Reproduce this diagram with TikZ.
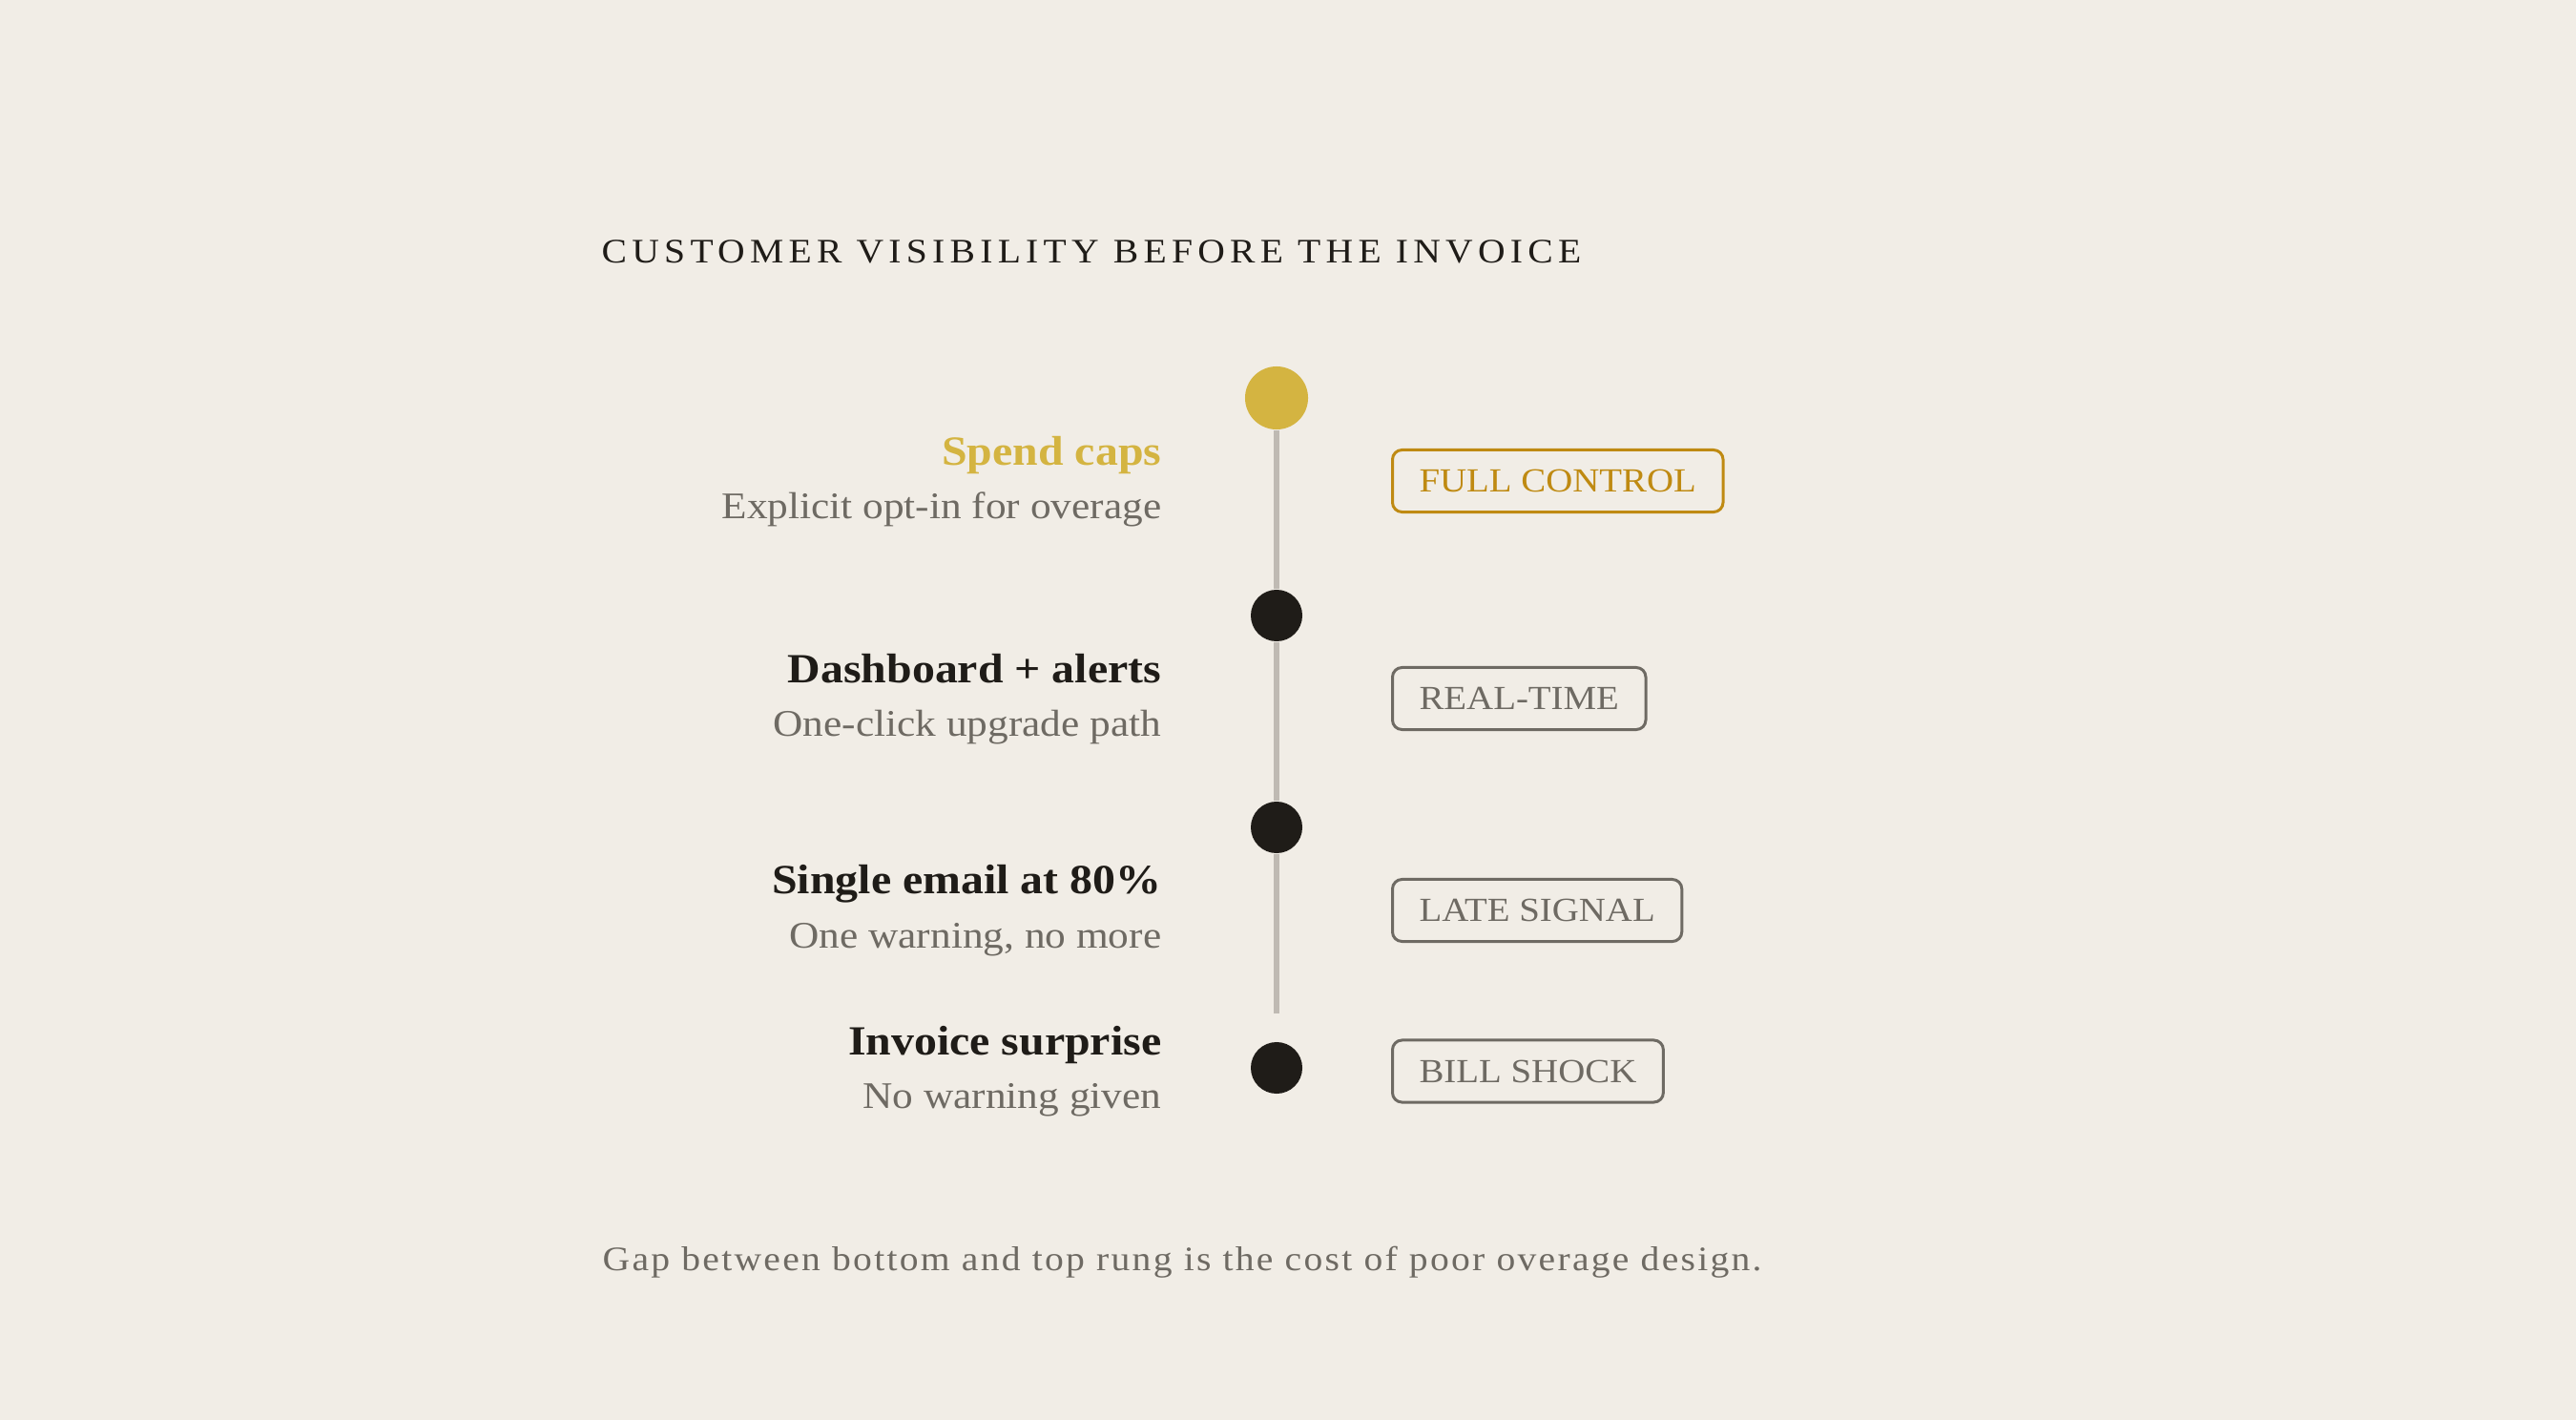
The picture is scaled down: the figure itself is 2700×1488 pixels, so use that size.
\documentclass[tikz,border=0pt]{standalone}
\usepackage{fontspec}
\setmainfont{Liberation Serif}[FakeStretch=1.1]
\definecolor{bg}{HTML}{F1EDE6}
\definecolor{gold}{HTML}{D4B441}
\definecolor{golddark}{HTML}{BF8A12}
\definecolor{ink}{HTML}{1F1C18}
\definecolor{muted}{HTML}{6E6A63}
\definecolor{rail}{HTML}{BFBAB3}
\tikzset{
  dot/.style={circle, fill=ink, minimum size=0.54cm, inner sep=0pt},
  golddot/.style={circle, fill=gold, minimum size=0.66cm, inner sep=0pt},
  railline/.style={draw=rail, line width=1.7pt},
  headtext/.style={anchor=base east, font=\fontsize{12.37pt}{14pt}\selectfont\bfseries, text=ink, inner sep=0pt},
  subtext/.style={anchor=base east, font=\fontsize{11.2pt}{13pt}\selectfont, text=muted, inner sep=0pt},
  tagbox/.style={anchor=west, draw=muted, text=muted, line width=0.85pt, rounded corners=0.1cm,
     minimum height=0.65cm, inner xsep=0.28cm, inner ysep=0pt,
     font=\fontsize{10.05pt}{12pt}\selectfont},
  titletext/.style={anchor=base west, inner sep=0pt, text=ink,
     font=\fontsize{10.24pt}{12pt}\selectfont\addfontfeature{LetterSpace=14.6}},
  foottext/.style={anchor=base west, inner sep=0pt, text=muted,
     font=\fontsize{10.24pt}{12pt}\selectfont\addfontfeature{LetterSpace=6.3}},
}
\begin{document}
\begin{tikzpicture}[x=0.01cm, y=-0.01cm]
\fill[bg] (0,0) rectangle (2700,1488);
\useasboundingbox (0,0) rectangle (2700,1488);

\node[titletext] (title) at (630,275.7) {CUSTOMER VISIBILITY BEFORE THE INVOICE};

% rungs
\node[golddot] (c1) at (1338,417) {};
\node[dot] (c2) at (1338,645) {};
\node[dot] (c3) at (1338,867) {};
\node[dot] (c4) at (1338,1119) {};
\coordinate (railend) at (1338,1062);
\draw[railline] (c1) -- (c2);
\draw[railline] (c2) -- (c3);
\draw[railline] (c3) -- (railend);

% left texts
\node[headtext, text=gold] (h1) at (1218,487) {Spend caps};
\node[subtext] (s1) at (1218,543) {Explicit opt-in for overage};
\node[headtext] (h2) at (1218,715) {Dashboard + alerts};
\node[subtext] (s2) at (1218,771.7) {One-click upgrade path};
\node[headtext] (h3) at (1218,936.7) {Single email at 80\%};
\node[subtext] (s3) at (1218,993.3) {One warning, no more};
\node[headtext] (h4) at (1218,1105) {Invoice surprise};
\node[subtext] (s4) at (1218,1161.7) {No warning given};

% tags
\node[tagbox, draw=golddark, text=golddark] (t1) at (1458,504) {FULL CONTROL};
\node[tagbox] (t2) at (1458,732) {REAL-TIME};
\node[tagbox] (t3) at (1458,954) {LATE SIGNAL};
\node[tagbox] (t4) at (1458,1122.5) {BILL SHOCK};

\node[foottext] (foot) at (631,1331) {Gap between bottom and top rung is the cost of poor overage design.};
\end{tikzpicture}
\end{document}
